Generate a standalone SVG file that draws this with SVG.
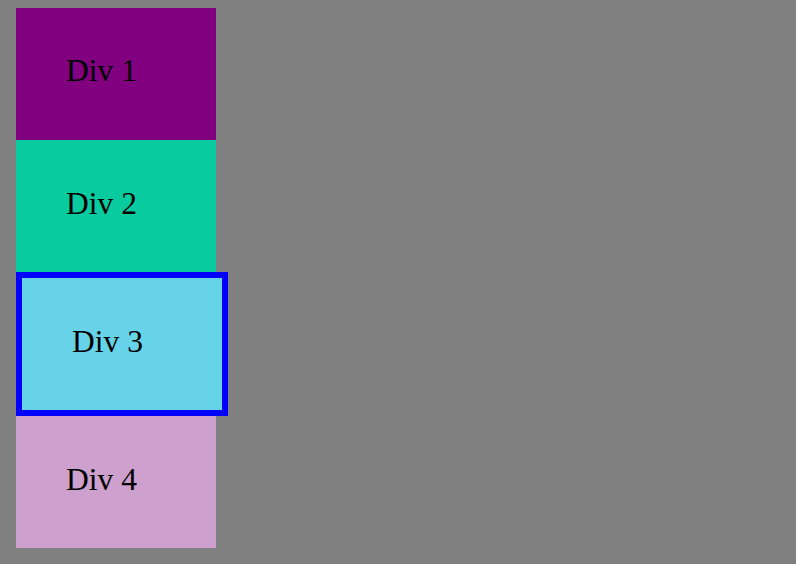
<svg xmlns="http://www.w3.org/2000/svg" width="796" height="564" viewBox="0 0 796 564">
<style>
text{font-family:"Liberation Serif","Times New Roman",serif;font-size:31.5px;fill:#000}
</style>
<rect width="796" height="564" fill="#808080"/>
<g id="div1"><rect x="16" y="8" width="200" height="132" fill="#800080"/><text x="66" y="81">Div 1</text></g>
<g id="div2"><rect x="16" y="140" width="200" height="132" fill="#08CCA0"/><text x="66" y="214">Div 2</text></g>
<g id="div3"><rect x="19" y="275" width="206" height="138" fill="#66D3E8" stroke="#0000FF" stroke-width="6"/><text x="72" y="352">Div 3</text></g>
<g id="div4"><rect x="16" y="416" width="200" height="132" fill="#CDA0CD"/><text x="66" y="490">Div 4</text></g>
<g id="connectors"/>
</svg>
